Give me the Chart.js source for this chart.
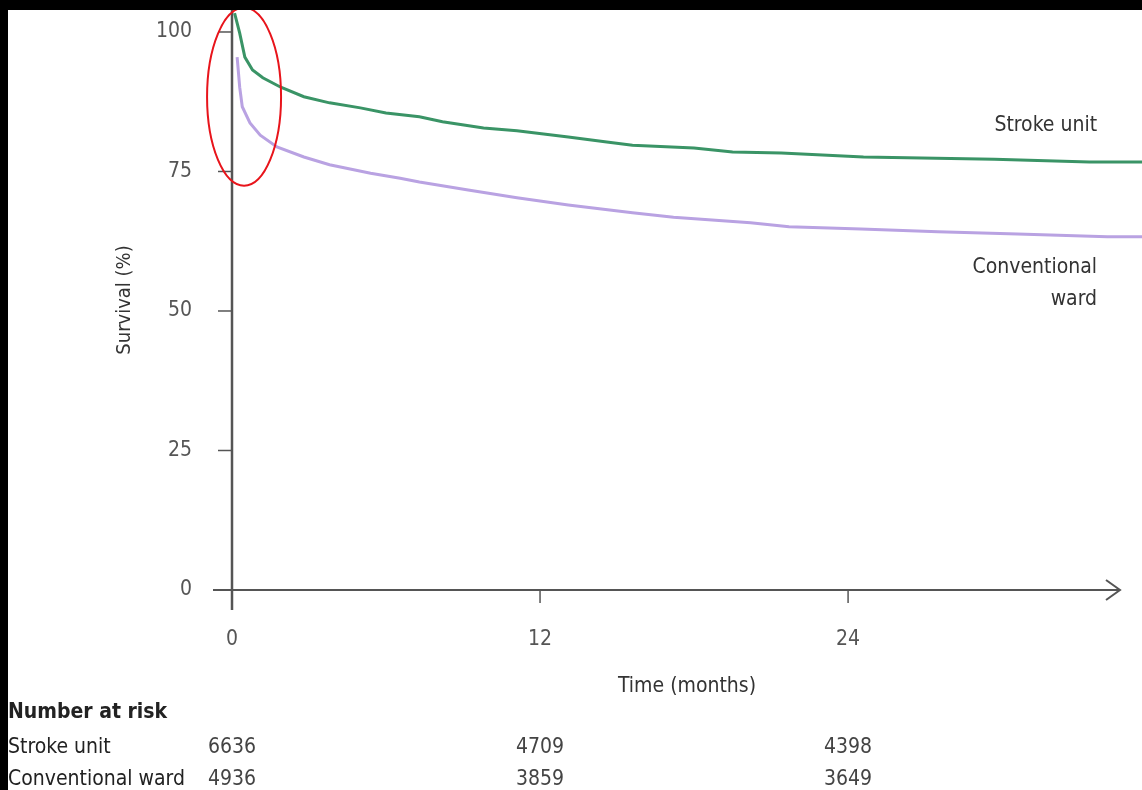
<!DOCTYPE html>
<html>
<head>
<meta charset="utf-8">
<script src="https://cdn.jsdelivr.net/npm/chart.js@4/dist/chart.umd.min.js"></script>
<style>
    html, body { margin: 0; padding: 0; background: #000; }
    .plot-box {
        position: absolute;
        left: 8px;
        top: 10px;
        width: 1134px;
        height: 780px;
        background: #fff;
    }
</style>
</head>
<body>
<div class="plot-box">
    <canvas id="survivalChart" width="1134" height="780"></canvas>
</div>
<script>
// Kaplan-Meier curves (time in months, survival in %)
const strokeTimes = [0.1, 0.3, 0.5, 0.8, 1.2, 1.9, 2.8, 3.8, 5.0, 6.0, 7.3, 8.2, 9.8, 11.1, 13.1, 14.6, 15.6, 18.0, 19.5, 21.4, 24.6, 29.7, 33.4, 35.45];
const strokeSurvival = [103.4, 99.8, 95.5, 93.2, 91.8, 90.1, 88.4, 87.3, 86.4, 85.5, 84.8, 83.9, 82.8, 82.3, 81.2, 80.3, 79.7, 79.2, 78.5, 78.3, 77.6, 77.2, 76.7, 76.7];

const wardTimes = [0.2, 0.3, 0.4, 0.7, 1.1, 1.75, 2.8, 3.8, 5.4, 6.55, 7.3, 9.2, 11.1, 13.1, 15.6, 17.2, 20.2, 21.7, 24.5, 27.5, 30.6, 34.1, 35.45];
const wardSurvival = [95.5, 90.1, 86.6, 83.7, 81.5, 79.4, 77.6, 76.2, 74.7, 73.8, 73.1, 71.7, 70.3, 69.0, 67.6, 66.8, 65.8, 65.1, 64.7, 64.2, 63.8, 63.3, 63.3];

const xTicks = [0, 12, 24];
const yTicks = [0, 25, 50, 75, 100];

// Number at risk table
const riskTimes = [0, 12, 24];
const strokeAtRisk = [6636, 4709, 4398];
const wardAtRisk = [4936, 3859, 3649];

const FONT = '"Liberation Sans Narrow", "DejaVu Sans Condensed", "Open Sans", sans-serif';
const GREEN = '#3a9466';
const PURPLE = '#b9a2e2';
const AXIS = '#555';

function toPoints(xs, ys) {
    return xs.map((x, i) => ({ x: x, y: ys[i] }));
}

// Axes with crossing origin, tick marks, arrow head, labels, table and the red ellipse
const extrasPlugin = {
    id: 'extras',
    beforeDatasetsDraw(chart) {
        const ctx = chart.ctx;
        const xs = chart.scales.x;
        const ys = chart.scales.y;
        const x0 = xs.getPixelForValue(0);
        const y0 = ys.getPixelForValue(0);
        ctx.save();
        ctx.strokeStyle = AXIS;
        ctx.lineWidth = 2.5;
        // y axis
        ctx.beginPath();
        ctx.moveTo(x0, chart.chartArea.top);
        ctx.lineTo(x0, y0 + 20);
        ctx.stroke();
        // x axis
        ctx.lineWidth = 2;
        const arrowX = chart.chartArea.right - 22;
        ctx.beginPath();
        ctx.moveTo(x0 - 19, y0);
        ctx.lineTo(arrowX, y0);
        ctx.stroke();
        ctx.beginPath();
        ctx.moveTo(arrowX - 14, y0 - 10);
        ctx.lineTo(arrowX, y0);
        ctx.lineTo(arrowX - 14, y0 + 10);
        ctx.stroke();
        // tick marks
        ctx.lineWidth = 1.5;
        yTicks.forEach(v => {
            const y = ys.getPixelForValue(v);
            ctx.beginPath();
            ctx.moveTo(x0 - 14, y);
            ctx.lineTo(x0, y);
            ctx.stroke();
        });
        xTicks.forEach(v => {
            const x = xs.getPixelForValue(v);
            ctx.beginPath();
            ctx.moveTo(x, y0);
            ctx.lineTo(x, y0 + 13);
            ctx.stroke();
        });
        ctx.restore();
    },
    afterDraw(chart) {
        const ctx = chart.ctx;
        const xs = chart.scales.x;
        const ys = chart.scales.y;
        ctx.save();

        // curve labels
        ctx.fillStyle = '#333';
        ctx.font = '21px ' + FONT;
        ctx.textAlign = 'right';
        ctx.textBaseline = 'middle';
        const lx = xs.getPixelForValue(33.7);
        ctx.fillText('Stroke unit', lx, ys.getPixelForValue(83.2));
        ctx.fillText('Conventional', lx, ys.getPixelForValue(57.7));
        ctx.fillText('ward', lx, ys.getPixelForValue(52.0));

        // number at risk table
        const y0 = ys.getPixelForValue(0);
        ctx.textAlign = 'left';
        ctx.fillStyle = '#222';
        ctx.font = 'bold 21px ' + FONT;
        ctx.fillText('Number at risk', 0, y0 + 123);
        ctx.font = '21px ' + FONT;
        ctx.fillText('Stroke unit', 0, y0 + 158);
        ctx.fillText('Conventional ward', 0, y0 + 190);
        ctx.textAlign = 'center';
        ctx.fillStyle = '#444';
        riskTimes.forEach((t, i) => {
            const x = xs.getPixelForValue(t);
            ctx.fillText(String(strokeAtRisk[i]), x, y0 + 158);
            ctx.fillText(String(wardAtRisk[i]), x, y0 + 190);
        });

        // red highlight ellipse round the early drop
        ctx.strokeStyle = '#e8141b';
        ctx.lineWidth = 2;
        ctx.beginPath();
        ctx.ellipse(xs.getPixelForValue(0.47), ys.getPixelForValue(88.4), 37, 89, 0, 0, Math.PI * 2);
        ctx.stroke();
        ctx.restore();
    }
};

new Chart(document.getElementById('survivalChart'), {
    type: 'line',
    data: {
        datasets: [
            {
                label: 'Stroke unit',
                data: toPoints(strokeTimes, strokeSurvival),
                borderColor: GREEN,
                borderWidth: 3,
                pointRadius: 0,
                tension: 0,
                fill: false
            },
            {
                label: 'Conventional ward',
                data: toPoints(wardTimes, wardSurvival),
                borderColor: PURPLE,
                borderWidth: 3,
                pointRadius: 0,
                tension: 0,
                fill: false
            }
        ]
    },
    options: {
        responsive: false,
        animation: false,
        layout: { padding: 0 },
        plugins: {
            legend: { display: false },
            tooltip: { enabled: false }
        },
        scales: {
            x: {
                type: 'linear',
                min: 0,
                max: 35.45,
                grid: { display: false },
                border: { display: false },
                afterBuildTicks: scale => { scale.ticks = xTicks.map(v => ({ value: v })); },
                afterFit: scale => {
                    scale.height = 200;
                    scale.paddingLeft = 0;
                    scale.paddingRight = 0;
                },
                ticks: {
                    padding: 29,
                    maxRotation: 0,
                    color: '#555',
                    font: { family: FONT, size: 21 }
                },
                title: {
                    display: true,
                    text: 'Time (months)',
                    color: '#333',
                    font: { family: FONT, size: 21 },
                    padding: { top: 0, bottom: 91 }
                }
            },
            y: {
                min: 0,
                max: 103.94,
                grid: { display: false },
                border: { display: false },
                afterBuildTicks: scale => { scale.ticks = yTicks.map(v => ({ value: v })); },
                afterFit: scale => {
                    scale.width = 224;
                    scale.paddingTop = 0;
                    scale.paddingBottom = 0;
                },
                ticks: {
                    padding: 32,
                    color: '#555',
                    font: { family: FONT, size: 21 }
                },
                title: {
                    display: true,
                    text: 'Survival (%)',
                    color: '#333',
                    font: { family: FONT, size: 20 },
                    padding: { top: 105, bottom: 0 }
                }
            }
        }
    },
    plugins: [extrasPlugin]
});
</script>
</body>
</html>
